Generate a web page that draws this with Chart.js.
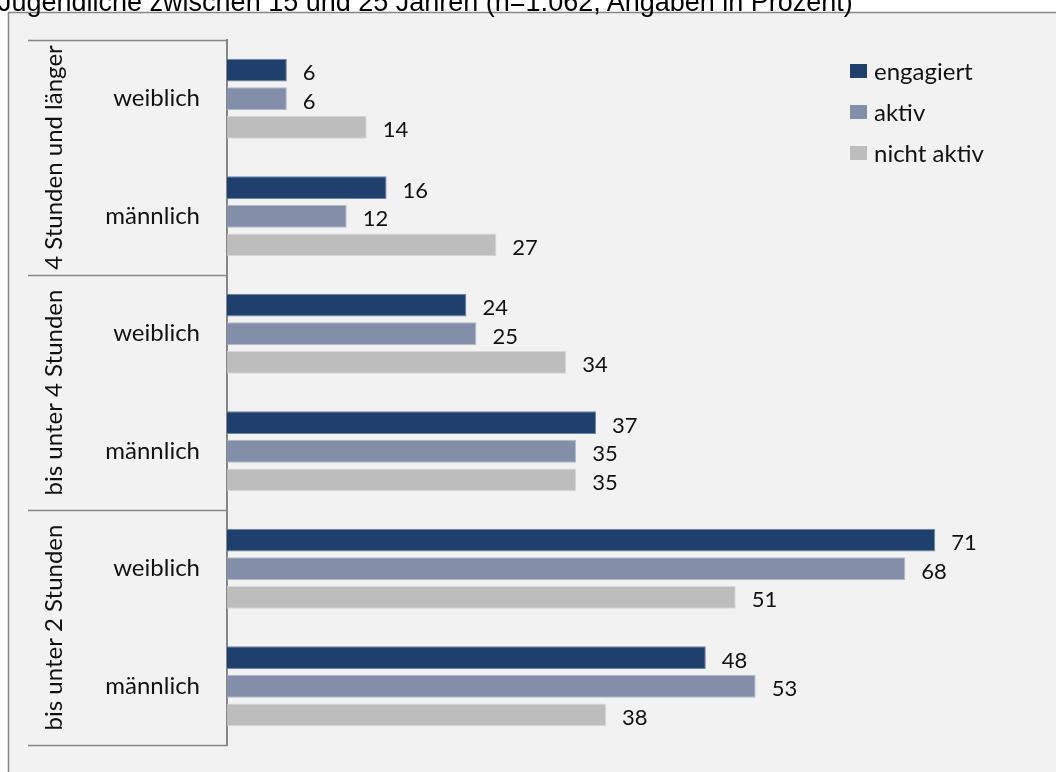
<!DOCTYPE html>
<html lang="de">
<head>
<meta charset="utf-8">
<title>Engagement nach Nutzungsdauer</title>
<script src="https://cdn.jsdelivr.net/npm/chart.js@4.4.1/dist/chart.umd.min.js"></script>
<style>
  html, body { margin: 0; padding: 0; background: #fff; overflow: hidden; }
  #wrap { position: relative; width: 1056px; height: 772px; }
  #chart { position: absolute; left: 0; top: 0; }
  #title {
    position: absolute; left: -2px; top: -11px; z-index: 2;
    font: 27px/27px "Liberation Sans", Arial, sans-serif; color: #000; white-space: nowrap;
  }
</style>
</head>
<body>
<div id="wrap">
  <canvas id="chart" width="1056" height="772"></canvas>
  <div id="title">Jugendliche zwischen 15 und 25 Jahren (n=1.062, Angaben in Prozent)</div>
</div>
<script>
// Kategorien von oben nach unten
const categories = ["weiblich", "männlich", "weiblich", "männlich", "weiblich", "männlich"];
const groups = ["4 Stunden und länger", "bis unter 4 Stunden", "bis unter 2 Stunden"];
const seriesNames = ["engagiert", "aktiv", "nicht aktiv"];

const engagiert = [6, 16, 24, 37, 71, 48];
const aktiv = [6, 12, 25, 35, 68, 53];
const nichtAktiv = [14, 27, 34, 35, 51, 38];

const colors = ["#1f3f6c", "#838ea9", "#bdbdbd"];
const edgeColors = ["#6f86a8", "#b3bbcd", "#d6d6d6"];

Chart.defaults.font.family = "Lato, 'Noto Sans', sans-serif";
Chart.defaults.color = "#111";

const LINE = "#868686";
const WORD_FONT = "24px Lato";
const NUM_FONT = "22px Lato";

// Hintergrund und Rahmen des Diagramms
const frame = {
  id: "frame",
  beforeDraw(chart) {
    const { ctx, width, height } = chart;
    ctx.save();
    ctx.fillStyle = "#fff";
    ctx.fillRect(0, 0, width, height);
    ctx.fillStyle = "#f2f2f2";
    ctx.fillRect(8, 12, width, height);
    ctx.strokeStyle = LINE;
    ctx.lineWidth = 1.5;
    ctx.strokeRect(8.5, 12.5, width + 10, height + 10);
    ctx.restore();
  }
};

// Gruppenbeschriftung (gedreht) und Trennlinien an der y-Achse
const groupAxis = {
  id: "groupAxis",
  afterDraw(chart) {
    const { ctx, chartArea } = chart;
    const y = chart.scales.y;
    const n = categories.length;
    const edge = (i) => {
      if (i <= 0) return chartArea.top;
      if (i >= n) return chartArea.bottom;
      return (y.getPixelForValue(i - 1) + y.getPixelForValue(i)) / 2;
    };
    ctx.save();
    ctx.strokeStyle = LINE;
    ctx.lineWidth = 1.5;
    for (let g = 0; g <= groups.length; g++) {
      const py = Math.round(edge(g * 2)) + 0.5;
      ctx.beginPath();
      ctx.moveTo(28, py);
      ctx.lineTo(chartArea.left, py);
      ctx.stroke();
    }
    ctx.fillStyle = "#111";
    ctx.font = WORD_FONT;
    ctx.textAlign = "center";
    ctx.textBaseline = "middle";
    groups.forEach((name, g) => {
      const cy = (edge(g * 2) + edge(g * 2 + 2)) / 2;
      ctx.save();
      ctx.translate(54, cy);
      ctx.rotate(-Math.PI / 2);
      ctx.fillText(name, 0, 0);
      ctx.restore();
    });
    ctx.restore();
  }
};

// Werte rechts neben den Balken
const valueLabels = {
  id: "valueLabels",
  afterDatasetsDraw(chart) {
    const { ctx } = chart;
    ctx.save();
    ctx.fillStyle = "#111";
    ctx.font = NUM_FONT;
    ctx.textAlign = "left";
    ctx.textBaseline = "middle";
    chart.data.datasets.forEach((ds, i) => {
      chart.getDatasetMeta(i).data.forEach((bar, j) => {
        ctx.fillText(String(ds.data[j]), bar.x + 16, bar.y + 3);
      });
    });
    ctx.restore();
  }
};

// Legende oben rechts im Diagramm
const legendBox = {
  id: "legendBox",
  afterDraw(chart) {
    const { ctx } = chart;
    ctx.save();
    ctx.font = WORD_FONT;
    ctx.textBaseline = "middle";
    chart.data.datasets.forEach((ds, i) => {
      const cy = 71 + i * 41;
      ctx.fillStyle = ds.backgroundColor;
      ctx.fillRect(850, cy - 7, 17, 14);
      ctx.fillStyle = "#111";
      ctx.fillText(ds.label, 874, cy + 1);
    });
    ctx.restore();
  }
};

const datasets = [engagiert, aktiv, nichtAktiv].map((values, i) => ({
  label: seriesNames[i],
  data: values,
  backgroundColor: colors[i],
  borderColor: edgeColors[i],
  borderWidth: 1,
  categoryPercentage: 0.73,
  barPercentage: 0.8
}));

new Chart(document.getElementById("chart"), {
  type: "bar",
  data: { labels: categories, datasets: datasets },
  options: {
    indexAxis: "y",
    responsive: false,
    animation: false,
    layout: { padding: { top: 40, bottom: 27, left: 0, right: 31 } },
    plugins: {
      legend: { display: false },
      tooltip: { enabled: false }
    },
    scales: {
      x: { display: false, min: 0, max: 80 },
      y: {
        afterFit(scale) {
          scale.width = 227;
          scale.paddingTop = 0;
          scale.paddingBottom = 0;
        },
        grid: { display: false, drawTicks: false },
        border: { display: true, color: LINE, width: 2 },
        ticks: { padding: 27, font: { size: 24 }, color: "#111" }
      }
    }
  },
  plugins: [frame, groupAxis, valueLabels, legendBox]
});
</script>
</body>
</html>
